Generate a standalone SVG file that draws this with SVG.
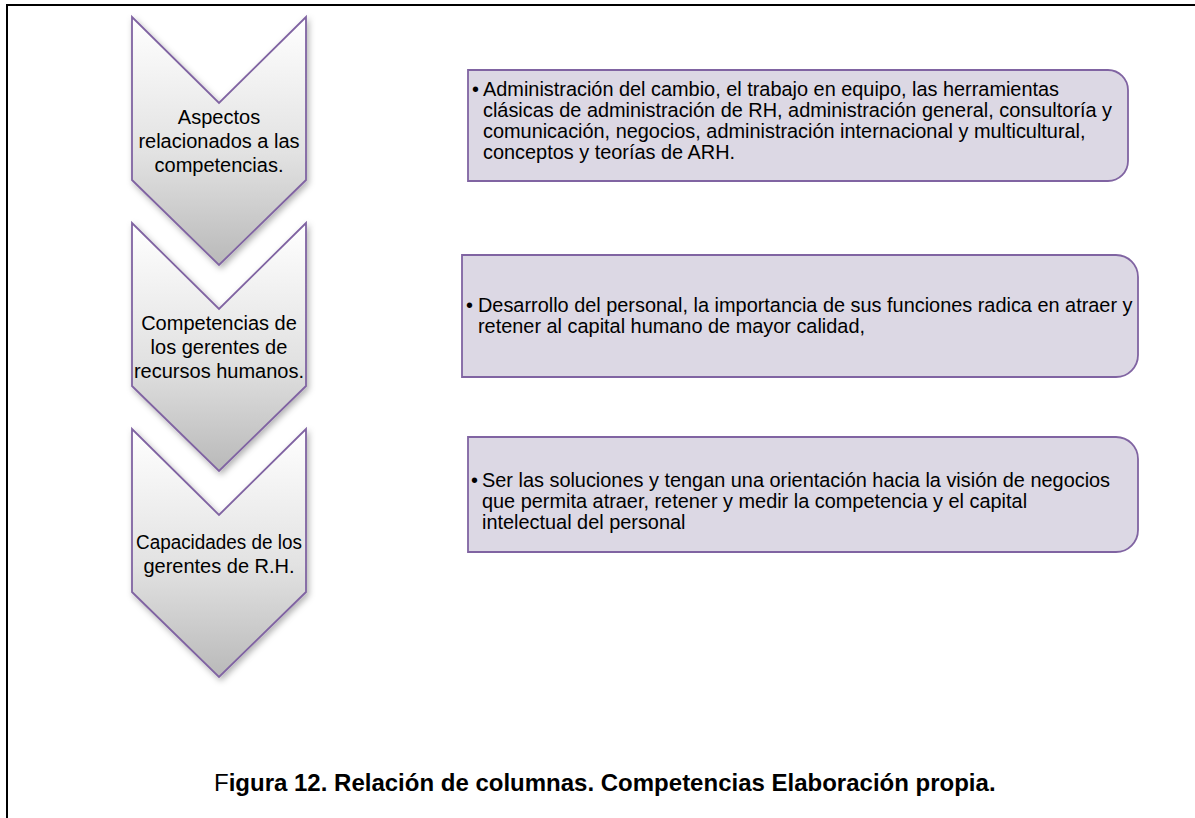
<svg xmlns="http://www.w3.org/2000/svg" width="1195" height="818" viewBox="0 0 1195 818">
  <style>
    .chev { stroke: #8064a2; stroke-width: 1.8; fill: url(#chevGrad); filter: url(#shadow); }
    .box { stroke: #8064a2; stroke-width: 1.8; fill: #dcd8e4; }
    .ct { font-family: "Liberation Sans", Arial, sans-serif; font-size: 20px; fill: #000; text-anchor: middle; }
    .bt { font-family: "Liberation Sans", Arial, sans-serif; font-size: 19.9px; fill: #000; }
    .cap { font-family: "Liberation Sans", Arial, sans-serif; font-size: 24px; font-weight: bold; fill: #000; }
  </style>
  <defs>
    <linearGradient id="chevGrad" x1="0" y1="0" x2="0" y2="1">
      <stop offset="0" stop-color="#ffffff"/>
      <stop offset="0.55" stop-color="#e2e2e2"/>
      <stop offset="1" stop-color="#b9b9b9"/>
    </linearGradient>
    <filter id="shadow" x="-20%" y="-20%" width="140%" height="140%">
      <feDropShadow dx="2" dy="3" stdDeviation="3" flood-color="#000" flood-opacity="0.3"/>
    </filter>
  </defs>
  <rect width="1195" height="818" fill="#ffffff"/>
  <g id="frame">
    <line x1="6" y1="5" x2="1195" y2="5" stroke="#000" stroke-width="2"/>
    <line x1="7" y1="4" x2="7" y2="818" stroke="#000" stroke-width="2"/>
  </g>
  <g id="connectors"></g>
  <g id="chevron1">
    <path class="chev" d="M132,17 L219,103 L306,17 L306,180 L219,265 L132,180 Z"/>
    <text class="ct" x="219" y="124">Aspectos</text>
    <text class="ct" x="219" y="148">relacionados a las</text>
    <text class="ct" x="219" y="172">competencias.</text>
  </g>
  <g id="chevron2">
    <path class="chev" d="M132,223 L219,309 L306,223 L306,386 L219,471 L132,386 Z"/>
    <text class="ct" x="219" y="330">Competencias de</text>
    <text class="ct" x="219" y="354">los gerentes de</text>
    <text class="ct" x="219" y="378">recursos humanos.</text>
  </g>
  <g id="chevron3">
    <path class="chev" d="M132,429 L219,515 L306,429 L306,592 L219,677 L132,592 Z"/>
    <text class="ct" x="219" y="549" textLength="166" lengthAdjust="spacingAndGlyphs">Capacidades de los</text>
    <text class="ct" x="219" y="573">gerentes de R.H.</text>
  </g>
  <g id="box1">
    <path class="box" d="M468,70 L1108,70 A20,20 0 0 1 1128,90 L1128,161 A20,20 0 0 1 1108,181 L468,181 Z"/>
    <text class="bt" x="472" y="96">•</text>
    <text class="bt" x="483" y="96">Administración del cambio, el trabajo en equipo, las herramientas</text>
    <text class="bt" x="483" y="117">clásicas de administración de RH, administración general, consultoría y</text>
    <text class="bt" x="483" y="138">comunicación, negocios, administración internacional y multicultural,</text>
    <text class="bt" x="483" y="159">conceptos y teorías de ARH.</text>
  </g>
  <g id="box2">
    <path class="box" d="M462,255 L1116,255 A22,22 0 0 1 1138,277 L1138,355 A22,22 0 0 1 1116,377 L462,377 Z"/>
    <text class="bt" x="466" y="312">•</text>
    <text class="bt" x="478" y="312">Desarrollo del personal, la importancia de sus funciones radica en atraer  y</text>
    <text class="bt" x="478" y="333">retener al capital humano de mayor calidad,</text>
  </g>
  <g id="box3">
    <path class="box" d="M468,437 L1116,437 A22,22 0 0 1 1138,459 L1138,530 A22,22 0 0 1 1116,552 L468,552 Z"/>
    <text class="bt" x="471" y="487">•</text>
    <text class="bt" x="482" y="487">Ser las soluciones y tengan una orientación hacia la visión de negocios</text>
    <text class="bt" x="482" y="508">que permita atraer, retener y medir la competencia y el capital</text>
    <text class="bt" x="482" y="529">intelectual del personal</text>
  </g>
  <g id="caption">
    <text class="cap" x="214" y="791"><tspan font-weight="normal">F</tspan>igura 12. Relación de columnas. Competencias Elaboración propia.</text>
  </g>
</svg>
